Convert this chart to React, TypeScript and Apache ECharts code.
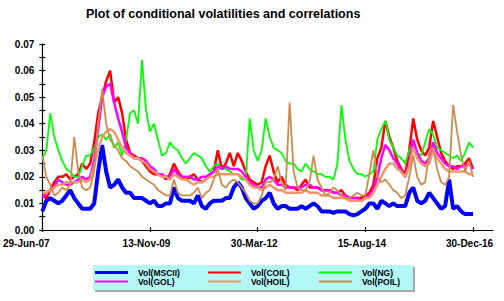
import React, { useEffect, useRef } from "react";
import * as echarts from "echarts";

const xTickLabels = ["29-Jun-07", "13-Nov-09", "30-Mar-12", "15-Aug-14", "30-Dec-16"];
const tickStep = 27;
const slotCount = 114;

const seriesNames = ["Vol(MSCII)", "Vol(COIL)", "Vol(NG)", "Vol(GOL)", "Vol(HOIL)", "Vol(POIL)"];
const seriesColors = ["#0000ff", "#ff0000", "#00ff00", "#ff00ff", "#f0966a", "#cc8a4c"];

const msci = [
  0.007, 0.011, 0.012, 0.011, 0.010, 0.011, 0.013, 0.015, 0.012, 0.010, 0.008, 0.008, 0.008, 0.010, 0.022, 0.032, 0.022, 0.016, 0.017,
  0.019, 0.016, 0.014, 0.014, 0.012, 0.012, 0.012, 0.011, 0.010, 0.011, 0.009, 0.009, 0.010, 0.010, 0.016, 0.012, 0.011, 0.011,
  0.011, 0.010, 0.013, 0.009, 0.008, 0.010, 0.011, 0.011, 0.011, 0.012, 0.012, 0.016, 0.018, 0.016, 0.012, 0.010, 0.008, 0.009,
  0.011, 0.012, 0.014, 0.010, 0.008, 0.009, 0.009, 0.008, 0.008, 0.008, 0.009, 0.008, 0.009, 0.010, 0.009, 0.007, 0.007, 0.007,
  0.0065, 0.007, 0.007, 0.007, 0.006, 0.0055, 0.006, 0.007, 0.008, 0.010, 0.010, 0.008, 0.011, 0.010, 0.009, 0.010, 0.009, 0.009,
  0.009, 0.014, 0.016, 0.011, 0.010, 0.011, 0.014, 0.012, 0.010, 0.008, 0.009, 0.019, 0.008, 0.009, 0.007, 0.006, 0.006, 0.006,
];
const coil = [
  0.013, 0.012, 0.015, 0.018, 0.020, 0.020, 0.021, 0.019, 0.020, 0.021, 0.025, 0.023, 0.025, 0.033, 0.044, 0.050, 0.056, 0.060, 0.048,
  0.050, 0.044, 0.034, 0.029, 0.028, 0.027, 0.026, 0.024, 0.022, 0.021, 0.021, 0.021, 0.019, 0.021, 0.025, 0.022, 0.020, 0.019,
  0.020, 0.021, 0.019, 0.018, 0.019, 0.021, 0.022, 0.030, 0.023, 0.025, 0.029, 0.024, 0.029, 0.026, 0.022, 0.019, 0.018, 0.017,
  0.018, 0.024, 0.028, 0.022, 0.018, 0.020, 0.017, 0.016, 0.016, 0.015, 0.017, 0.019, 0.016, 0.016, 0.016, 0.015, 0.015, 0.015,
  0.014, 0.014, 0.015, 0.013, 0.012, 0.012, 0.012, 0.012, 0.013, 0.014, 0.017, 0.027, 0.031, 0.041, 0.035, 0.031, 0.026, 0.023,
  0.021, 0.030, 0.042, 0.034, 0.030, 0.028, 0.031, 0.041, 0.035, 0.029, 0.026, 0.024, 0.023, 0.024, 0.024, 0.025, 0.027, 0.023,
];
const ng = [
  0.027, 0.030, 0.044, 0.035, 0.030, 0.026, 0.023, 0.022, 0.020, 0.020, 0.024, 0.028, 0.028, 0.031, 0.035, 0.036, 0.034, 0.036, 0.031,
  0.033, 0.028, 0.034, 0.044, 0.045, 0.040, 0.064, 0.045, 0.037, 0.040, 0.034, 0.028, 0.029, 0.033, 0.031, 0.030, 0.027, 0.025,
  0.027, 0.029, 0.028, 0.027, 0.024, 0.022, 0.024, 0.025, 0.023, 0.023, 0.022, 0.021, 0.021, 0.019, 0.019, 0.042, 0.030, 0.026,
  0.030, 0.042, 0.035, 0.031, 0.030, 0.029, 0.026, 0.025, 0.025, 0.023, 0.022, 0.025, 0.023, 0.022, 0.021, 0.021, 0.020, 0.020,
  0.019, 0.025, 0.047, 0.034, 0.026, 0.023, 0.021, 0.021, 0.020, 0.021, 0.022, 0.034, 0.038, 0.041, 0.034, 0.031, 0.028, 0.027,
  0.025, 0.030, 0.033, 0.029, 0.028, 0.033, 0.038, 0.036, 0.031, 0.030, 0.029, 0.028, 0.027, 0.028, 0.026, 0.029, 0.033, 0.031,
];
const gol = [
  0.012, 0.014, 0.015, 0.016, 0.019, 0.018, 0.017, 0.017, 0.018, 0.019, 0.020, 0.019, 0.020, 0.026, 0.038, 0.050, 0.054, 0.055, 0.048,
  0.042, 0.037, 0.031, 0.029, 0.027, 0.027, 0.027, 0.026, 0.024, 0.023, 0.021, 0.021, 0.020, 0.020, 0.023, 0.021, 0.020, 0.020,
  0.020, 0.019, 0.019, 0.020, 0.020, 0.021, 0.022, 0.024, 0.023, 0.024, 0.023, 0.023, 0.023, 0.022, 0.020, 0.018, 0.017, 0.016,
  0.016, 0.019, 0.020, 0.019, 0.017, 0.017, 0.016, 0.016, 0.016, 0.016, 0.016, 0.017, 0.017, 0.016, 0.016, 0.015, 0.015, 0.015,
  0.014, 0.014, 0.013, 0.013, 0.012, 0.012, 0.012, 0.011, 0.012, 0.013, 0.015, 0.020, 0.027, 0.032, 0.030, 0.027, 0.025, 0.022,
  0.020, 0.025, 0.034, 0.029, 0.026, 0.025, 0.027, 0.033, 0.029, 0.027, 0.025, 0.024, 0.024, 0.023, 0.024, 0.024, 0.025, 0.023,
];
const hoil = [
  0.014, 0.014, 0.015, 0.016, 0.017, 0.017, 0.018, 0.018, 0.018, 0.018, 0.019, 0.018, 0.019, 0.024, 0.030, 0.035, 0.037, 0.038, 0.037,
  0.034, 0.031, 0.029, 0.028, 0.027, 0.027, 0.026, 0.025, 0.023, 0.022, 0.021, 0.020, 0.020, 0.019, 0.021, 0.020, 0.019, 0.019,
  0.018, 0.017, 0.018, 0.018, 0.019, 0.020, 0.020, 0.021, 0.021, 0.021, 0.021, 0.021, 0.021, 0.020, 0.019, 0.017, 0.016, 0.016,
  0.015, 0.016, 0.017, 0.016, 0.015, 0.015, 0.014, 0.014, 0.014, 0.014, 0.014, 0.015, 0.014, 0.014, 0.014, 0.013, 0.013, 0.013,
  0.012, 0.012, 0.012, 0.012, 0.011, 0.011, 0.011, 0.011, 0.012, 0.012, 0.014, 0.017, 0.020, 0.023, 0.025, 0.025, 0.023, 0.022,
  0.020, 0.024, 0.031, 0.027, 0.025, 0.024, 0.025, 0.030, 0.027, 0.025, 0.023, 0.022, 0.022, 0.022, 0.022, 0.022, 0.021, 0.021,
];
const poil = [
  0.028, 0.020, 0.017, 0.013, 0.014, 0.016, 0.015, 0.017, 0.035, 0.022, 0.016, 0.015, 0.016, 0.022, 0.040, 0.053, 0.040, 0.034, 0.032,
  0.030, 0.027, 0.026, 0.024, 0.023, 0.022, 0.020, 0.019, 0.018, 0.017, 0.015, 0.014, 0.013, 0.013, 0.019, 0.014, 0.013, 0.013,
  0.013, 0.014, 0.016, 0.012, 0.014, 0.015, 0.019, 0.023, 0.017, 0.016, 0.018, 0.019, 0.018, 0.016, 0.014, 0.011, 0.010, 0.010,
  0.013, 0.018, 0.018, 0.019, 0.024, 0.018, 0.015, 0.048, 0.022, 0.016, 0.015, 0.015, 0.018, 0.028, 0.019, 0.016, 0.013, 0.014,
  0.016, 0.015, 0.013, 0.012, 0.012, 0.013, 0.014, 0.013, 0.013, 0.021, 0.030, 0.020, 0.018, 0.019, 0.017, 0.015, 0.014, 0.012,
  0.013, 0.020, 0.028, 0.020, 0.017, 0.018, 0.029, 0.031, 0.023, 0.018, 0.017, 0.020, 0.047, 0.037, 0.028, 0.022, 0.026, 0.020,
];

const seriesData = [msci, coil, ng, gol, hoil, poil];
const lineWidths = [4, 2.5, 1.8, 2.5, 2.5, 1.8];
const legendLineWidths = [3, 2, 2, 2, 2, 2];

const FONT = "'Liberation Sans', Arial, sans-serif";

export default function App() {
  const ref = useRef<HTMLDivElement>(null);

  useEffect(() => {
    if (!ref.current) return;
    const chart = echarts.init(ref.current, null, { renderer: "svg" });
    const categories = Array.from({ length: slotCount }, (_, i) => String(i));
    const isTick = (i: number) => i % tickStep === 0;

    const legendCols = [95, 208, 319];
    const legendRows = [272.5, 281.5];
    const legendGraphics: any[] = [
      { type: "rect", shape: { x: 95, y: 267, width: 320, height: 25 }, style: { fill: "#a8a8a8" }, z: 10 },
      { type: "rect", shape: { x: 93, y: 265, width: 320, height: 25 }, style: { fill: "#b4f7f7" }, z: 11 },
    ];
    seriesNames.forEach((name, i) => {
      const col = i % 3;
      const row = Math.floor(i / 3);
      const x = legendCols[col];
      const y = legendRows[row];
      legendGraphics.push({
        type: "line",
        shape: { x1: x, y1: y, x2: x + 33, y2: y },
        style: { stroke: seriesColors[i], lineWidth: legendLineWidths[i] },
        z: 12,
      });
      legendGraphics.push({
        type: "text",
        x: x + 43,
        y: y + 0.5,
        style: {
          text: name,
          font: `bold 8.5px ${FONT}`,
          fill: "#000",
          verticalAlign: "middle",
          align: "left",
        },
        z: 12,
      });
    });

    const option: any = {
      animation: false,
      backgroundColor: "#ffffff",
      title: {
        text: "Plot of conditional volatilities and correlations",
        left: 86,
        top: 7,
        padding: 0,
        textStyle: { fontFamily: FONT, fontWeight: "bold", fontSize: 12.5, color: "#000" },
      },
      grid: { left: 40, right: 11, top: 44, bottom: 71, containLabel: false },
      xAxis: [
        {
          type: "category",
          data: categories,
          boundaryGap: false,
          axisLine: { lineStyle: { color: "#000", width: 1.2 } },
          axisTick: { show: true, interval: (i: number) => isTick(i), length: 2, lineStyle: { color: "#000", width: 1.2 } },
          axisLabel: {
            interval: (i: number) => isTick(i),
            margin: 8,
            fontFamily: FONT,
            fontWeight: "bold",
            fontSize: 10,
            color: "#000",
            formatter: (v: string, i: number) => {
              const idx = Math.round(i / tickStep);
              const lab = xTickLabels[idx] ?? "";
              return idx === 0 ? `{first|${lab}}` : `{other|${lab}}`;
            },
            rich: {
              first: { padding: [0, 32, 0, 0], fontFamily: FONT, fontWeight: "bold", fontSize: 10, color: "#000" },
              other: { padding: [0, 7, 0, 0], fontFamily: FONT, fontWeight: "bold", fontSize: 10, color: "#000" },
            },
          },
          splitLine: { show: false },
        },
        {
          type: "category",
          data: categories,
          boundaryGap: false,
          position: "bottom",
          axisLine: { show: false },
          axisTick: { show: true, inside: true, interval: (i: number) => isTick(i), length: 3, lineStyle: { color: "#000", width: 1.2 } },
          axisLabel: { show: false },
          splitLine: { show: false },
        },
      ],
      yAxis: [
        {
          type: "value",
          min: 0,
          max: 0.07,
          interval: 0.005,
          axisLine: { show: true, lineStyle: { color: "#000", width: 1.2 } },
          axisTick: { show: true, length: 3, lineStyle: { color: "#000", width: 1.2 } },
          axisLabel: {
            margin: 8,
            fontFamily: FONT,
            fontWeight: "bold",
            fontSize: 10,
            color: "#000",
            formatter: (v: number) => (Math.round(v * 1000) % 10 === 0 ? v.toFixed(2) : ""),
          },
          splitLine: { show: false },
        },
        {
          type: "value",
          min: 0,
          max: 0.07,
          interval: 0.005,
          position: "left",
          axisLine: { show: false },
          axisTick: { show: true, inside: true, length: 3, lineStyle: { color: "#000", width: 1.2 } },
          axisLabel: { show: false },
          splitLine: { show: false },
        },
      ],
      series: seriesNames.map((name, i) => ({
        name,
        type: "line",
        data: seriesData[i],
        xAxisIndex: 0,
        yAxisIndex: 0,
        showSymbol: false,
        symbol: "none",
        lineStyle: { color: seriesColors[i], width: lineWidths[i] },
        itemStyle: { color: seriesColors[i] },
        z: 2 + i,
      })),
      graphic: legendGraphics,
    };
    chart.setOption(option);
    return () => chart.dispose();
  }, []);

  return (
    <div
      ref={ref}
      style={{ position: "fixed", left: 0, top: 0, width: 504, height: 301, background: "#fff" }}
    />
  );
}
